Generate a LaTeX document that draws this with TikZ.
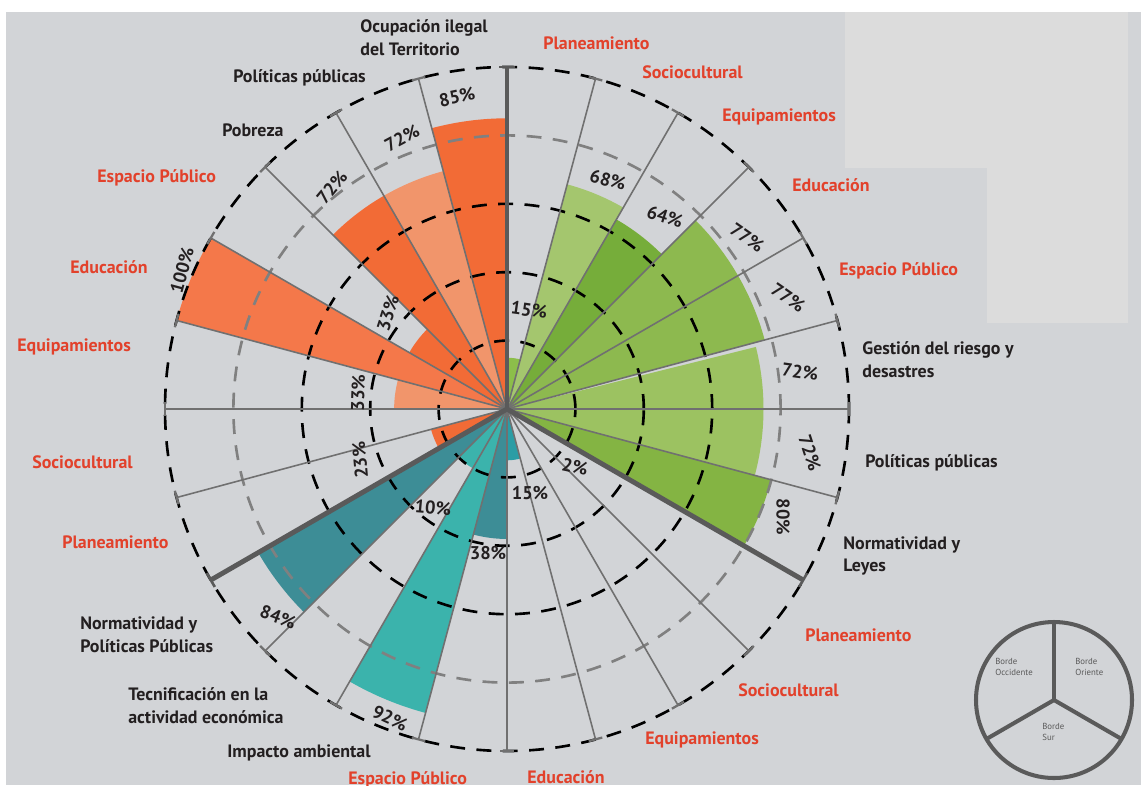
\documentclass[tikz,border=0pt]{standalone}
\usepackage{fontspec}
\setmainfont{PT Sans}
\usetikzlibrary{positioning}

\definecolor{bgGray}{HTML}{D2D4D7}
\definecolor{patchGray}{HTML}{DCDCDC}
\definecolor{catRed}{HTML}{E2412B}
\definecolor{txtBlack}{HTML}{231F20}
\definecolor{axisGray}{HTML}{5A5A5A}
\definecolor{spokeGray}{HTML}{707070}
\definecolor{ringGray}{HTML}{808080}
\definecolor{orA}{HTML}{F26B36}
\definecolor{orB}{HTML}{F1956B}
\definecolor{orC}{HTML}{F4784A}
\definecolor{tlA}{HTML}{3D8D96}
\definecolor{tlB}{HTML}{3BB3AC}
\definecolor{tlC}{HTML}{2B9DA5}
\definecolor{grA}{HTML}{84B443}
\definecolor{grB}{HTML}{9CC261}
\definecolor{grC}{HTML}{8DB94F}
\definecolor{grD}{HTML}{76AD3A}
\definecolor{grE}{HTML}{A4C66E}
\definecolor{grF}{HTML}{8CBE4A}

\tikzset{
  cat/.style={font=\fontsize{10.2}{13}\selectfont\bfseries, text=catRed, anchor=west, inner sep=0pt},
  topic/.style={font=\fontsize{10.2}{13}\selectfont\bfseries, text=txtBlack, anchor=west, align=left, inner sep=0pt},
  pct/.style={font=\fontsize{10.5}{11}\selectfont\bfseries, text=txtBlack, inner sep=0pt},
  spoke/.style={spokeGray, line width=0.9pt},
  border/.style={axisGray, line width=2.8pt},
  ring/.style={black, line width=1.5pt, dash pattern=on 8.5pt off 6.5pt},
  legtext/.style={font=\fontsize{5}{6}\selectfont, text=axisGray, anchor=west, align=left, inner sep=0pt}
}

\begin{document}
\begin{tikzpicture}[x=0.02cm, y=0.02cm] % 1 unit = 1 px of the original
\useasboundingbox (-507,-376) rectangle (634,409);
\fill[white] (-507,-376) rectangle (634,409);
\fill[bgGray] (-501,-376) rectangle (634,397);
\fill[patchGray] (338,241) rectangle (480,397);
\fill[patchGray] (480,86) rectangle (621,397);

\coordinate (o) at (0,0);

% Bars (start/end angle, percent, colour)
\foreach \s/\e/\p/\c in {90/105/85/orA, 105/120/72/orB, 120/135/72/orA, 135/150/33/orA,
    150/165/100/orC, 165/180/33/orB, 195/210/23/orA,
    210/225/84/tlA, 225/240/20/tlB, 240/255/92/tlB, 255/270/38/tlA, 270/285/15/tlC, 315/330/2/tlC,
    -30/-15/80/grA, -15/0/75/grB, 0/14/75/grB, 15/30/78/grC, 30/45/78/grC,
    45/60/64/grD, 60/75/68/grE, 75/90/15/grF}
  \fill[fill=\c] (o) -- (\s:{3.42*\p}) arc[start angle=\s, end angle=\e, radius={3.42*\p}] -- cycle;

% Rings
\foreach \r in {68.4,136.8,205.2,342}
  \draw[ring] (o) circle[radius=\r];
\draw[ring, ringGray] (o) circle[radius=273.6];

% Spokes
\foreach \a in {-15,0,...,75,105,120,...,195,225,240,...,315} {
  \draw[spoke] (o) -- (\a:342);
  \draw[spoke, line width=1.3pt, rotate=\a] (342,-7) -- (342,7);
}

% Borders between the three zones
\foreach \a in {90,210,330} {
  \draw[border] (o) -- (\a:342);
  \draw[axisGray, line width=1.5pt, rotate=\a] (342,-8) -- (342,8);
}

% Percentages
\foreach \x/\y/\r/\lbl [count=\i] in {-50/312/12/85, -105/271/28/72, -175/222/50/72, -119/96/72/33,
    -325/139/75/100, -149/16/88/33, -147/-51/95/23,
    -229/-208/-20/84, -74/-99/-5/10, -117/-309/-25/92, -19/-144/0/38, 23/-84/0/15, 68/-58/-12/2,
    22/99/-8/15, 101/229/-15/68, 158/192/-18/64, 240/171/-35/77, 281/111/-35/77,
    293/37/-8/72, 303/-44/-72/72, 276/-108/-90/80}
  \node[pct, rotate=\r] (pct\i) at (\x,\y) {\lbl\%};

% Borde Occidente
\node[topic] (wOcup) at (-147,371) {Ocupación ilegal\\del Territorio};
\node[topic] (wPol) at (-274,331) {Políticas públicas};
\node[topic] (wPob) at (-285,279) {Pobreza};
\node[cat] (wEsp) at (-410,231) {Espacio Público};
\node[cat] (wEdu) at (-437,142) {Educación};
\node[cat] (wEqu) at (-490,62) {Equipamientos};
\node[cat] (wSoc) at (-475,-53) {Sociocultural};
\node[cat] (wPla) at (-445,-133) {Planeamiento};

% Borde Sur
\node[topic] (sNorm) at (-427,-226) {Normatividad y\\Políticas Públicas};
\node[topic] (sTec) at (-379,-297) {Tecnificación en la\\actividad económica};
\node[topic] (sImp) at (-280,-344) {Impacto ambiental};
\node[cat] (sEsp) at (-159,-371) {Espacio Público};
\node[cat] (sEdu) at (20,-368) {Educación};
\node[cat] (sEqu) at (138,-331) {Equipamientos};
\node[cat] (sSoc) at (231,-281) {Sociocultural};
\node[cat] (sPla) at (298,-226) {Planeamiento};

% Borde Oriente
\node[cat] (ePla) at (36,366) {Planeamiento};
\node[cat] (eSoc) at (135,337) {Sociocultural};
\node[cat] (eEqu) at (215,292) {Equipamientos};
\node[cat] (eEdu) at (285,224) {Educación};
\node[cat] (eEsp) at (332,138) {Espacio Público};
\node[topic] (eGes) at (355,49) {Gestión del riesgo y\\desastres};
\node[topic] (ePol) at (358,-54) {Políticas públicas};
\node[topic] (eNorm) at (336,-147) {Normatividad y\\Leyes};

% Legend
\coordinate (leg) at (547,-291);
\draw[axisGray, line width=2.3pt] (leg) circle[radius=78];
\foreach \a in {90,210,330}
  \draw[axisGray, line width=2.3pt] (leg) -- ++(\a:78);
\node[legtext] (legW) at (488,-258) {Borde\\Occidente};
\node[legtext] (legE) at (568,-258) {Borde\\Oriente};
\node[legtext] (legS) at (535,-323) {Borde\\Sur};
\end{tikzpicture}
\end{document}
